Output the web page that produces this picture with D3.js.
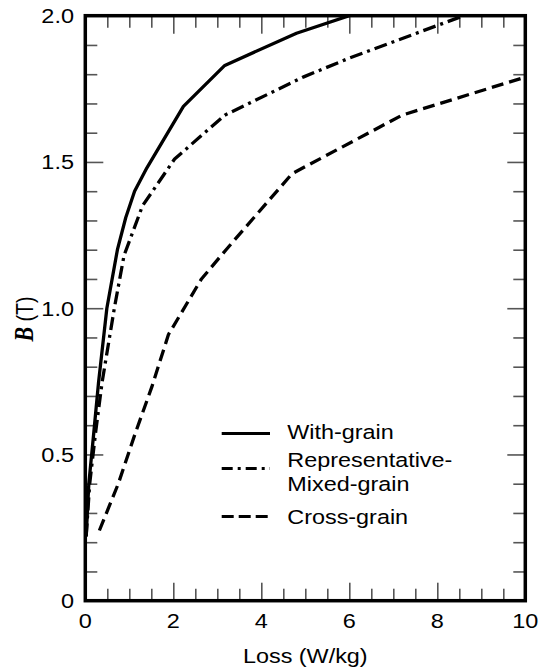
<!DOCTYPE html>
<html>
<head>
<meta charset="utf-8">
<script src="https://cdn.jsdelivr.net/npm/d3@7"></script>
<style>
  body { margin: 0; background: #fff; }
  svg { display: block; }
</style>
</head>
<body>
<svg id="chart" width="540" height="669"></svg>
<script>
// Core loss vs. flux density for three grain orientations
const lossWithGrain = [0.02, 0.08, 0.19, 0.30, 0.49, 0.73, 0.92, 1.12, 1.40, 2.23, 3.17, 4.80, 6.00];
const bWithGrain    = [0.22, 0.40, 0.57, 0.745, 1.00, 1.20, 1.31, 1.40, 1.48, 1.69, 1.83, 1.94, 2.00];

const lossMixed = [0.02, 0.10, 0.23, 0.38, 0.66, 0.88, 1.30, 2.03, 3.17, 4.95, 6.00, 8.60];
const bMixed    = [0.22, 0.40, 0.57, 0.745, 1.00, 1.18, 1.35, 1.51, 1.66, 1.79, 1.855, 2.00];

const lossCross = [0.32, 0.75, 1.13, 1.51, 1.89, 2.64, 3.20, 4.70, 7.20, 10.0];
const bCross    = [0.24, 0.40, 0.57, 0.73, 0.91, 1.10, 1.20, 1.46, 1.66, 1.79];

const xTickValues = [0, 2, 4, 6, 8, 10];
const xTickLabels = ["0", "2", "4", "6", "8", "10"];
const yTickValues = [0, 0.5, 1.0, 1.5, 2.0];
const yTickLabels = ["0", "0.5", "1.0", "1.5", "2.0"];

const seriesLabels = [["With-grain"], ["Representative-", "Mixed-grain"], ["Cross-grain"]];
const xTitle = "Loss (W/kg)";

// ---- layout ----
const plotL = 85.3, plotR = 525.3, plotT = 15.7, plotB = 600.7;
const FONT = "'Liberation Sans', Arial, Helvetica, sans-serif";
const SX = 1.2; // lettering is set slightly wide

const svg = d3.select("#chart");
const x = d3.scaleLinear().domain([0, 10]).range([plotL, plotR]);
const y = d3.scaleLinear().domain([0, 2]).range([plotB, plotT]);

function label(g, str, px, py, anchor, size, sx) {
  return g.append("text")
    .attr("transform", `translate(${px},${py}) scale(${sx},1)`)
    .attr("text-anchor", anchor)
    .attr("font-family", FONT)
    .attr("font-size", size)
    .attr("fill", "#000")
    .text(str);
}

// ---- inward ticks on all four sides ----
const xMinor = d3.range(0, 10.001, 0.5);
const yMinor = d3.range(0, 2.0001, 0.1).map(v => +v.toFixed(1));
const isMajorX = v => Math.abs(v / 2 - Math.round(v / 2)) < 1e-6;
const isMajorY = v => Math.abs(v / 0.5 - Math.round(v / 0.5)) < 1e-6;
const MINOR = 12, MAJOR = 18;

function tickAxis(axis, tx, ty, vals, majorFn, sign, horizontal) {
  const g = svg.append("g")
    .attr("transform", `translate(${tx},${ty})`)
    .call(axis.tickValues(vals).tickSizeInner(sign * MINOR).tickSizeOuter(0).tickFormat(""));
  g.select(".domain").remove();
  g.selectAll(".tick line")
    .attr("stroke", "#555")
    .attr("stroke-width", 1.6)
    .each(function(d) {
      const len = sign * (majorFn(d) ? MAJOR : MINOR);
      d3.select(this).attr(horizontal ? "y2" : "x2", len);
    });
  g.selectAll(".tick text").remove();
  return g;
}
tickAxis(d3.axisBottom(x), 0, plotB, xMinor, isMajorX, -1, true);
tickAxis(d3.axisTop(x), 0, plotT, xMinor, isMajorX, 1, true);
tickAxis(d3.axisLeft(y), plotL, 0, yMinor, isMajorY, 1, false);
tickAxis(d3.axisRight(y), plotR, 0, yMinor, isMajorY, -1, false);

// ---- frame ----
svg.append("rect")
  .attr("x", plotL).attr("y", plotT)
  .attr("width", plotR - plotL).attr("height", plotB - plotT)
  .attr("fill", "none").attr("stroke", "#000").attr("stroke-width", 3.5);

// ---- tick labels ----
const tl = svg.append("g");
xTickValues.forEach((v, i) => label(tl, xTickLabels[i], x(v), 628, "middle", 21, 1.12));
yTickValues.forEach((v, i) => label(tl, yTickLabels[i], 74, y(v) + 7.5, "end", 21, 1.12));

// ---- axis titles ----
label(svg, xTitle, (plotL + plotR) / 2, 663, "middle", 19.5, SX);

const yt = svg.append("text")
  .attr("transform", `translate(33,319) scale(${SX},1) rotate(-90)`)
  .attr("text-anchor", "middle")
  .attr("font-family", FONT)
  .attr("font-size", 19.5)
  .attr("fill", "#000");
yt.append("tspan")
  .attr("font-family", "'Liberation Serif', 'Times New Roman', serif")
  .attr("font-style", "italic").attr("font-weight", "bold")
  .attr("font-size", 22)
  .text("B");
yt.append("tspan").text(" (T)");

// ---- curves ----
svg.append("clipPath").attr("id", "plot-clip")
  .append("rect").attr("x", plotL).attr("y", plotT)
  .attr("width", plotR - plotL).attr("height", plotB - plotT);

const line = d3.line().x(d => x(d[0])).y(d => y(d[1]));
const series = [
  { pts: d3.zip(lossWithGrain, bWithGrain), dash: null },
  { pts: d3.zip(lossMixed, bMixed), dash: "13,5,3,5" },
  { pts: d3.zip(lossCross, bCross), dash: "12,6" }
];
const plot = svg.append("g").attr("clip-path", "url(#plot-clip)");
series.forEach(s => {
  plot.append("path")
    .attr("d", line(s.pts))
    .attr("fill", "none")
    .attr("stroke", "#000")
    .attr("stroke-width", 3.3)
    .attr("stroke-linejoin", "round")
    .attr("stroke-dasharray", s.dash);
});

// ---- legend ----
const legend = svg.append("g");
const legendRows = [
  { ly: 433.5, text: [439], dash: null },
  { ly: 468.5, text: [466.7, 490.7], dash: "11,5,3,5" },
  { ly: 516.5, text: [524], dash: "12,5" }
];
legendRows.forEach((r, i) => {
  legend.append("line")
    .attr("x1", 221.7).attr("x2", 270)
    .attr("y1", r.ly).attr("y2", r.ly)
    .attr("stroke", "#000").attr("stroke-width", 3)
    .attr("stroke-dasharray", r.dash);
  seriesLabels[i].forEach((t, j) => label(legend, t, 287.3, r.text[j], "start", 19.5, SX));
});
</script>
</body>
</html>
